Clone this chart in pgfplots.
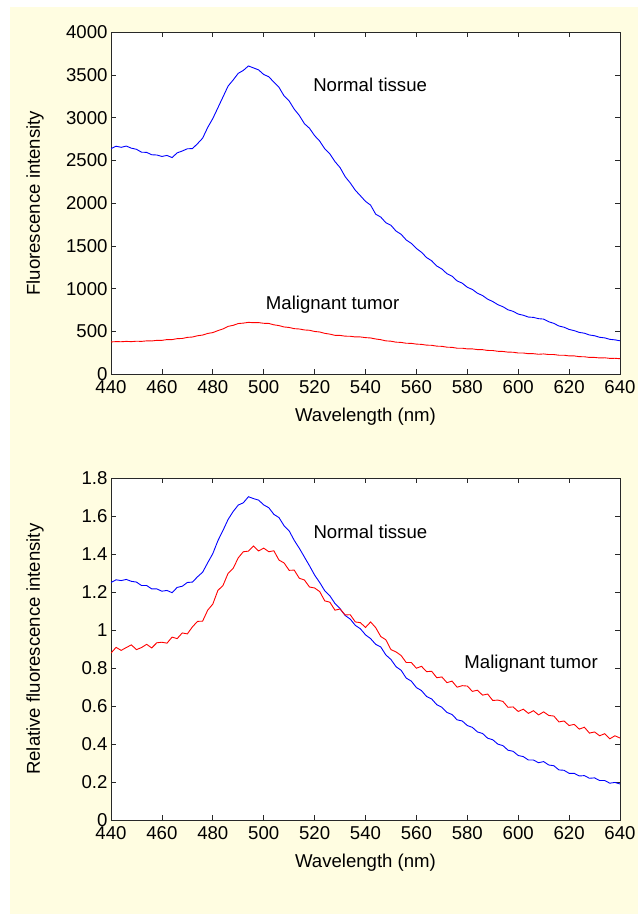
\documentclass[border=0pt]{standalone}
\usepackage{fontspec}
\setmainfont{Liberation Sans}
\usepackage{pgfplots}
\pgfplotsset{compat=1.18}
\usepackage{pgfplotstable}
\definecolor{cream}{RGB}{255,253,225}
\definecolor{axgray}{RGB}{40,40,40}

\pgfplotstableread{
x an at bn bt
440 2640 376 1.252 0.880
442 2668 379 1.266 0.910
444 2655 378 1.262 0.894
446 2670 382 1.268 0.909
448 2645 379 1.258 0.923
450 2632 384 1.254 0.898
452 2598 382 1.236 0.909
454 2596 388 1.236 0.926
456 2568 387 1.218 0.907
458 2565 394 1.218 0.934
460 2548 394 1.206 0.937
462 2560 403 1.210 0.932
464 2535 403 1.198 0.964
466 2590 414 1.226 0.956
468 2612 416 1.232 0.986
470 2638 429 1.252 0.981
472 2640 433 1.254 1.018
474 2698 448 1.282 1.047
476 2762 456 1.306 1.048
478 2888 475 1.356 1.106
480 2992 485 1.404 1.138
482 3118 508 1.472 1.210
484 3245 528 1.526 1.236
486 3372 558 1.584 1.300
488 3444 570 1.626 1.326
490 3522 591 1.660 1.382
492 3556 596 1.672 1.414
494 3608 605 1.704 1.417
496 3585 601 1.694 1.444
498 3562 602 1.686 1.418
500 3508 594 1.661 1.433
502 3482 592 1.646 1.414
504 3418 576 1.611 1.419
506 3358 567 1.594 1.370
508 3258 551 1.551 1.355
510 3198 545 1.524 1.316
512 3102 531 1.474 1.317
514 3028 527 1.432 1.274
516 2932 516 1.386 1.265
518 2878 512 1.340 1.228
520 2792 498 1.291 1.223
522 2728 492 1.252 1.204
524 2638 476 1.208 1.155
526 2578 467 1.182 1.148
528 2488 453 1.141 1.106
530 2418 452 1.114 1.112
532 2312 443 1.078 1.081
534 2238 442 1.059 1.082
536 2152 434 1.026 1.044
538 2088 434 1.008 1.040
540 2022 426 0.976 1.015
542 1978 422 0.956 1.044
544 1872 410 0.926 1.014
546 1838 402 0.912 0.967
548 1772 388 0.870 0.950
550 1742 384 0.846 0.898
552 1674 373 0.808 0.886
554 1636 370 0.789 0.867
556 1570 360 0.748 0.830
558 1530 359 0.732 0.830
560 1470 350 0.698 0.800
562 1426 347 0.682 0.810
564 1364 338 0.651 0.782
566 1326 336 0.638 0.784
568 1265 326 0.608 0.750
570 1230 324 0.594 0.754
572 1175 314 0.567 0.724
574 1146 312 0.556 0.732
576 1090 302 0.528 0.700
578 1064 302 0.522 0.708
580 1016 294 0.498 0.706
582 990 294 0.488 0.678
584 946 286 0.464 0.684
586 919 285 0.456 0.658
588 876 276 0.431 0.664
590 849 275 0.423 0.630
592 812 266 0.400 0.632
594 788 264 0.392 0.625
596 752 256 0.368 0.594
598 734 255 0.362 0.596
600 702 246 0.340 0.572
602 688 246 0.334 0.584
604 667 238 0.316 0.562
606 663 238 0.316 0.576
608 648 231 0.302 0.554
610 643 235 0.308 0.570
612 612 228 0.290 0.551
614 593 228 0.286 0.548
616 562 220 0.264 0.517
618 548 220 0.262 0.522
620 522 212 0.246 0.498
622 508 212 0.246 0.504
624 487 203 0.232 0.479
626 478 202 0.234 0.489
628 457 194 0.220 0.458
630 448 194 0.222 0.464
632 430 188 0.208 0.444
634 423 190 0.208 0.455
636 406 183 0.194 0.428
638 400 184 0.198 0.444
640 389 179 0.190 0.432
}\data

\newcommand{\bigf}{\fontsize{18.6}{22}\selectfont}

\pgfplotsset{
  mystyle/.style={
    scale only axis, width=509pt, height=341.5pt,
    xmin=440, xmax=640, xtick={440,460,...,640},
    tick align=inside, tick pos=both, major tick length=5pt,
    axis line style={axgray, line width=0.8pt},
    every tick/.style={axgray, line width=0.8pt},
    tick label style={font=\bigf},
    label style={font=\bigf},
    /pgf/number format/assume math mode=true,
    /pgf/number format/set thousands separator={},
    scaled ticks=false,
    xticklabel style={yshift=-3pt},
    axis background/.style={fill=white},
    xlabel={Wavelength (nm)},
    xlabel style={at={(axis description cs:0.5,-0.126)}, anchor=center},
    ylabel style={at={(axis description cs:-0.149,0.5)}, anchor=center},
  }
}

\begin{document}
\begin{tikzpicture}
\fill[white] (0,0) rectangle (638pt,914pt);
\fill[cream] (10pt,0) rectangle (638pt,907pt);
\path[use as bounding box] (0,0) rectangle (638pt,914pt);

\begin{axis}[mystyle, at={(111pt,540pt)}, anchor=south west,
  ymin=0, ymax=4000, ytick={0,500,...,4000},
  ylabel={Fluorescence intensity}]
\addplot[blue, line width=0.9pt] table[x=x, y=an] {\data};
\addplot[red, line width=0.9pt] table[x=x, y=at] {\data};
\node[anchor=base west, inner sep=0pt, font=\bigf] at (axis cs:519.4,3305) {Normal tissue};
\node[anchor=base west, inner sep=0pt, font=\bigf] at (axis cs:500.8,750) {Malignant tumor};
\node[font=\bigf] at (axis description cs:0.5,-0.196) {(a)};
\end{axis}

\begin{axis}[mystyle, at={(111pt,94pt)}, anchor=south west,
  ymin=0, ymax=1.8, ytick={0,0.2,...,1.8},
  yticklabels={0,0.2,0.4,0.6,0.8,1,1.2,1.4,1.6,1.8},
  ylabel={Relative fluorescence intensity}]
\addplot[blue, line width=0.9pt] table[x=x, y=bn] {\data};
\addplot[red, line width=0.9pt] table[x=x, y=bt] {\data};
\node[anchor=base west, inner sep=0pt, font=\bigf] at (axis cs:519.5,1.486) {Normal tissue};
\node[anchor=base west, inner sep=0pt, font=\bigf] at (axis cs:578.8,0.800) {Malignant tumor};
\node[font=\bigf] at (axis description cs:0.5,-0.196) {(b)};
\end{axis}
\end{tikzpicture}
\end{document}
